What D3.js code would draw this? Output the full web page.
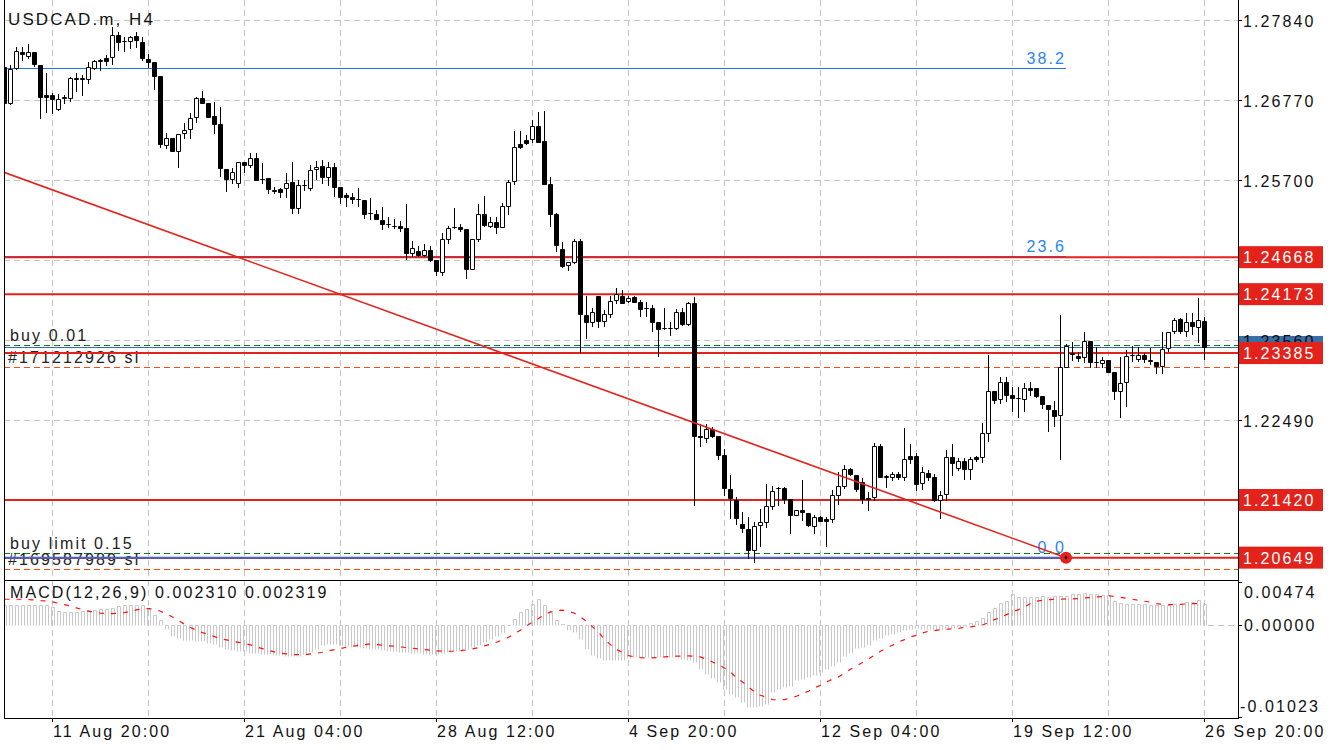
<!DOCTYPE html>
<html lang="en">
<head>
<meta charset="utf-8">
<script src="https://cdn.jsdelivr.net/npm/d3@7"></script>
<style>
    body { margin: 0; background: #ffffff; }
    svg { display: block; font-family: "Liberation Sans", Arial, sans-serif; }
    .t16 { font-size: 16px; letter-spacing: 2.1px; }
</style>
</head>
<body>
<script>
// ---- candles (H4, bar 0 .. bar 200) ----
const open = [
1.27211,1.26730,1.27198,1.27412,1.27359,1.27412,1.27238,1.26837,1.26837,1.26650,
1.26797,1.26797,1.27051,1.27051,1.27051,1.27198,1.27292,1.27332,1.27345,1.27639,
1.27560,1.27559,1.27626,1.27546,1.27319,1.27278,1.27091,1.26168,1.26262,1.26088,
1.26329,1.26382,1.26543,1.26797,1.26730,1.26556,1.26449,1.25847,1.25713,1.25660,
1.25941,1.25901,1.25994,1.25713,1.25727,1.25553,1.25580,1.25593,1.25673,1.25326,
1.25633,1.25593,1.25847,1.25887,1.25740,1.25874,1.25606,1.25499,1.25473,1.25446,
1.25433,1.25259,1.25245,1.25165,1.25112,1.25085,1.25085,1.25058,1.24724,1.24750,
1.24697,1.24764,1.24630,1.24470,1.24911,1.25071,1.25071,1.25045,1.24510,1.24911,
1.25245,1.25085,1.25138,1.25071,1.25352,1.25687,1.26182,1.26235,1.26248,1.26422,
1.26222,1.25647,1.25245,1.24777,1.24563,1.24603,1.24884,1.23894,1.23801,1.24149,
1.23814,1.23908,1.24095,1.24149,1.24082,1.24135,1.24068,1.23988,1.23988,1.23801,
1.23721,1.23714,1.23721,1.23935,1.23774,1.24055,1.22276,1.22249,1.22370,1.22276,
1.22022,1.21567,1.21420,1.21099,1.21032,1.20751,1.21086,1.21126,1.21340,1.21581,
1.21581,1.21433,1.21219,1.21286,1.21246,1.21072,1.21193,1.21166,1.21166,1.21487,
1.21607,1.21835,1.21754,1.21661,1.21447,1.21460,1.22142,1.21728,1.21728,1.21768,
1.21728,1.22009,1.22009,1.21647,1.21781,1.21728,1.21420,1.21500,1.21995,1.21848,
1.21942,1.21835,1.21995,1.21995,1.22316,1.22878,1.22771,1.22998,1.22824,1.22784,
1.22771,1.22918,1.22918,1.22811,1.22690,1.22624,1.22557,1.23199,1.23373,1.23346,
1.23333,1.23547,1.23266,1.23252,1.23293,1.23128,1.22878,1.22998,1.23359,1.23306,
1.23359,1.23279,1.23266,1.23212,1.23453,1.23681,1.23841,1.23681,1.23801,1.23734,
1.23814];
const high = [
1.27225,1.27238,1.27479,1.27479,1.27519,1.27412,1.27238,1.27131,1.26864,1.26850,
1.26837,1.27078,1.27131,1.27104,1.27278,1.27305,1.27319,1.27372,1.27746,1.27680,
1.27613,1.27626,1.27680,1.27613,1.27385,1.27278,1.27091,1.26329,1.26262,1.26315,
1.26462,1.26596,1.26810,1.26890,1.26730,1.26743,1.26676,1.25847,1.25861,1.25941,
1.25941,1.26061,1.26061,1.25927,1.25727,1.25606,1.25593,1.25794,1.25941,1.25700,
1.25700,1.25901,1.25954,1.25968,1.25941,1.25927,1.25606,1.25526,1.25526,1.25593,
1.25433,1.25460,1.25299,1.25339,1.25205,1.25178,1.25152,1.25379,1.24884,1.24817,
1.24844,1.24817,1.24630,1.24991,1.25085,1.25326,1.25112,1.25045,1.24911,1.25379,
1.25486,1.25205,1.25205,1.25392,1.25700,1.26355,1.26355,1.26302,1.26503,1.26610,
1.26623,1.25740,1.25259,1.24871,1.24603,1.24911,1.24911,1.24149,1.23988,1.24149,
1.23961,1.24149,1.24256,1.24229,1.24149,1.24149,1.24095,1.24068,1.24028,1.23801,
1.23988,1.23801,1.23975,1.23988,1.24068,1.24135,1.22437,1.22437,1.22397,1.22276,
1.22102,1.21754,1.21460,1.21260,1.21193,1.21126,1.21300,1.21634,1.21607,1.21594,
1.21594,1.21433,1.21286,1.21688,1.21246,1.21219,1.21206,1.21193,1.21554,1.21795,
1.21888,1.21848,1.21754,1.21714,1.21527,1.22182,1.22169,1.21754,1.21795,1.21795,
1.22383,1.22169,1.22049,1.21862,1.21821,1.21768,1.21541,1.22089,1.22169,1.21982,
1.21982,1.21995,1.22009,1.22450,1.23359,1.22878,1.23065,1.23065,1.22931,1.22931,
1.22985,1.22998,1.22918,1.22811,1.22690,1.22744,1.23894,1.23507,1.23534,1.23400,
1.23667,1.23547,1.23467,1.23333,1.23293,1.23128,1.23333,1.23427,1.23480,1.23467,
1.23386,1.23453,1.23266,1.23667,1.23667,1.23854,1.23854,1.23921,1.23921,1.24122,
1.23868];
const low = [
1.26717,1.26717,1.27185,1.27305,1.27332,1.27225,1.26529,1.26610,1.26596,1.26636,
1.26730,1.26757,1.26890,1.26837,1.26997,1.27190,1.27171,1.27238,1.27252,1.27439,
1.27425,1.27466,1.27479,1.27305,1.27211,1.26917,1.26141,1.26128,1.26088,1.25874,
1.26262,1.26262,1.26476,1.26730,1.26543,1.26329,1.25754,1.25553,1.25660,1.25606,
1.25807,1.25874,1.25700,1.25660,1.25526,1.25526,1.25473,1.25473,1.25259,1.25259,
1.25567,1.25567,1.25713,1.25660,1.25633,1.25486,1.25392,1.25352,1.25392,1.25352,
1.25192,1.25178,1.25178,1.25045,1.25071,1.25058,1.25018,1.24643,1.24684,1.24684,
1.24684,1.24617,1.24429,1.24429,1.24857,1.25058,1.25018,1.24389,1.24510,1.24884,
1.25085,1.25071,1.24991,1.25071,1.25245,1.25647,1.26128,1.26182,1.26209,1.26209,
1.25647,1.25085,1.24750,1.24536,1.24496,1.24590,1.23400,1.23587,1.23747,1.23734,
1.23747,1.23868,1.24055,1.24055,1.24068,1.24068,1.23881,1.23881,1.23680,1.23346,
1.23707,1.23627,1.23707,1.23761,1.23761,1.21353,1.22142,1.22196,1.22262,1.21968,
1.21487,1.21179,1.21099,1.20992,1.20644,1.20591,1.20805,1.21059,1.21300,1.21353,
1.21380,1.20979,1.21219,1.21153,1.21072,1.20979,1.21139,1.20805,1.21126,1.21367,
1.21581,1.21754,1.21541,1.21380,1.21286,1.21420,1.21728,1.21594,1.21688,1.21701,
1.21688,1.21915,1.21554,1.21567,1.21688,1.21406,1.21179,1.21420,1.21754,1.21821,
1.21701,1.21701,1.21942,1.21928,1.22209,1.22717,1.22717,1.22744,1.22610,1.22530,
1.22610,1.22824,1.22798,1.22651,1.22343,1.22410,1.21968,1.23199,1.23293,1.23279,
1.23266,1.23199,1.23199,1.23199,1.23128,1.22771,1.22530,1.22677,1.23279,1.23279,
1.23266,1.23239,1.23119,1.23119,1.23413,1.23654,1.23654,1.23614,1.23640,1.23534,
1.23306];
const close = [
1.26730,1.27185,1.27425,1.27385,1.27412,1.27252,1.26810,1.26810,1.26783,1.26783,
1.26810,1.27064,1.27064,1.27058,1.27211,1.27292,1.27299,1.27292,1.27639,1.27546,
1.27555,1.27613,1.27573,1.27332,1.27278,1.27091,1.26182,1.26262,1.26088,1.26315,
1.26369,1.26529,1.26797,1.26730,1.26543,1.26449,1.25861,1.25713,1.25807,1.25941,
1.25901,1.25994,1.25700,1.25707,1.25580,1.25560,1.25540,1.25660,1.25319,1.25633,
1.25627,1.25834,1.25874,1.25740,1.25874,1.25606,1.25473,1.25473,1.25446,1.25440,
1.25245,1.25252,1.25178,1.25112,1.25106,1.25080,1.25058,1.24724,1.24791,1.24697,
1.24764,1.24630,1.24483,1.24911,1.25058,1.25078,1.25045,1.24510,1.24911,1.25245,
1.25098,1.25138,1.25071,1.25352,1.25673,1.26141,1.26141,1.26195,1.26422,1.26209,
1.25647,1.25245,1.24831,1.24550,1.24603,1.24884,1.23908,1.23801,1.23935,1.23814,
1.23908,1.24082,1.24175,1.24055,1.24122,1.24068,1.23975,1.23982,1.23801,1.23707,
1.23714,1.23721,1.23935,1.23774,1.24055,1.22276,1.22262,1.22370,1.22276,1.22022,
1.21581,1.21447,1.21179,1.21046,1.20751,1.21072,1.21126,1.21340,1.21541,1.21587,
1.21433,1.21219,1.21286,1.21260,1.21086,1.21193,1.21139,1.21139,1.21487,1.21607,
1.21835,1.21768,1.21567,1.21433,1.21440,1.22142,1.21728,1.21735,1.21768,1.21728,
1.21968,1.21968,1.21634,1.21795,1.21728,1.21420,1.21487,1.21995,1.21915,1.21942,
1.21835,1.21968,1.21968,1.22316,1.22878,1.22758,1.22998,1.22824,1.22784,1.22778,
1.22918,1.22891,1.22811,1.22704,1.22637,1.22544,1.23199,1.23480,1.23380,1.23319,
1.23547,1.23266,1.23260,1.23293,1.23128,1.22878,1.22985,1.23346,1.23353,1.23359,
1.23306,1.23286,1.23212,1.23440,1.23667,1.23828,1.23681,1.23801,1.23747,1.23828,
1.23467];

// ---- MACD(12,26,9): histogram (main) and signal ----
const macdMain = [
0.00223,0.00223,0.00223,0.00223,0.00223,0.00223,0.00223,0.00223,0.00197,0.00152,
0.00141,0.00141,0.00141,0.00152,0.00160,0.00160,0.00171,0.00178,0.00186,0.00208,
0.00215,0.00215,0.00215,0.00215,0.00178,0.00104,0.00048,-0.00045,-0.00126,-0.00148,
-0.00167,-0.00174,-0.00182,-0.00186,-0.00200,-0.00215,-0.00249,-0.00275,-0.00286,-0.00289,
-0.00297,-0.00312,-0.00319,-0.00323,-0.00326,-0.00334,-0.00341,-0.00349,-0.00349,-0.00349,
-0.00326,-0.00304,-0.00275,-0.00230,-0.00211,-0.00219,-0.00230,-0.00237,-0.00249,-0.00249,
-0.00260,-0.00267,-0.00275,-0.00282,-0.00289,-0.00297,-0.00304,-0.00304,-0.00312,-0.00319,
-0.00323,-0.00326,-0.00326,-0.00312,-0.00304,-0.00297,-0.00289,-0.00275,-0.00249,-0.00230,
-0.00193,-0.00156,-0.00126,-0.00089,-0.00007,0.00067,0.00141,0.00178,0.00234,0.00282,
0.00223,0.00141,0.00048,0.00011,-0.00063,-0.00082,-0.00156,-0.00267,-0.00334,-0.00371,
-0.00390,-0.00397,-0.00397,-0.00390,-0.00371,-0.00364,-0.00360,-0.00360,-0.00360,-0.00360,
-0.00360,-0.00360,-0.00360,-0.00378,-0.00397,-0.00416,-0.00497,-0.00545,-0.00594,-0.00638,
-0.00712,-0.00768,-0.00805,-0.00861,-0.00916,-0.00916,-0.00905,-0.00879,-0.00749,-0.00712,
-0.00697,-0.00683,-0.00620,-0.00601,-0.00582,-0.00564,-0.00527,-0.00490,-0.00460,-0.00416,
-0.00349,-0.00312,-0.00260,-0.00249,-0.00230,-0.00174,-0.00148,-0.00119,-0.00100,-0.00082,
-0.00056,-0.00052,-0.00037,-0.00045,-0.00052,-0.00063,-0.00063,-0.00045,-0.00037,-0.00026,
-0.00015,0.00022,0.00037,0.00074,0.00141,0.00186,0.00245,0.00267,0.00345,0.00308,
0.00308,0.00308,0.00308,0.00319,0.00308,0.00319,0.00319,0.00319,0.00345,0.00345,
0.00356,0.00345,0.00345,0.00334,0.00334,0.00260,0.00245,0.00234,0.00234,0.00234,
0.00234,0.00223,0.00223,0.00215,0.00223,0.00234,0.00234,0.00252,0.00252,0.00271,
0.002310];
const macdSignal = [
0.00282,0.00282,0.00282,0.00282,0.00278,0.00275,0.00267,0.00263,0.00252,0.00237,
0.00223,0.00208,0.00186,0.00167,0.00148,0.00141,0.00126,0.00122,0.00122,0.00126,
0.00134,0.00148,0.00163,0.00174,0.00178,0.00171,0.00148,0.00119,0.00085,0.00045,
0.00004,-0.00033,-0.00063,-0.00089,-0.00111,-0.00134,-0.00156,-0.00171,-0.00186,-0.00197,
-0.00208,-0.00226,-0.00249,-0.00267,-0.00286,-0.00304,-0.00319,-0.00326,-0.00334,-0.00334,
-0.00338,-0.00326,-0.00319,-0.00308,-0.00293,-0.00278,-0.00267,-0.00252,-0.00241,-0.00230,
-0.00223,-0.00215,-0.00223,-0.00230,-0.00237,-0.00241,-0.00249,-0.00256,-0.00263,-0.00271,
-0.00278,-0.00286,-0.00293,-0.00297,-0.00297,-0.00297,-0.00289,-0.00282,-0.00271,-0.00256,
-0.00237,-0.00219,-0.00197,-0.00171,-0.00141,-0.00100,-0.00063,-0.00015,0.00030,0.00067,
0.00111,0.00141,0.00156,0.00160,0.00148,0.00126,0.00085,0.00037,-0.00026,-0.00082,
-0.00167,-0.00223,-0.00275,-0.00312,-0.00345,-0.00360,-0.00367,-0.00371,-0.00371,-0.00367,
-0.00360,-0.00356,-0.00352,-0.00349,-0.00349,-0.00352,-0.00360,-0.00386,-0.00416,-0.00445,
-0.00482,-0.00527,-0.00594,-0.00638,-0.00694,-0.00749,-0.00787,-0.00809,-0.00835,-0.00838,
-0.00835,-0.00816,-0.00798,-0.00768,-0.00742,-0.00705,-0.00675,-0.00638,-0.00608,-0.00582,
-0.00538,-0.00497,-0.00460,-0.00423,-0.00382,-0.00341,-0.00297,-0.00260,-0.00230,-0.00193,
-0.00167,-0.00137,-0.00119,-0.00093,-0.00074,-0.00067,-0.00056,-0.00052,-0.00048,-0.00041,
-0.00033,-0.00026,-0.00015,-0.00004,0.00022,0.00056,0.00078,0.00111,0.00141,0.00167,
0.00197,0.00234,0.00260,0.00271,0.00278,0.00282,0.00282,0.00286,0.00286,0.00289,
0.00297,0.00301,0.00308,0.00312,0.00319,0.00315,0.00304,0.00293,0.00282,0.00271,
0.00260,0.00249,0.00234,0.00226,0.00223,0.00223,0.00226,0.00230,0.00234,0.00234,
0.002319];

// ---- axis labels ----
const priceTicks = [1.27840, 1.26770, 1.25700, 1.24630, 1.23560, 1.22490, 1.21420];
const macdTicks = [0.00474, 0.00000, -0.01023];
const timeBars = [8, 40, 72, 104, 136, 168, 200];
const timeLabels = ["11 Aug 20:00", "21 Aug 04:00", "28 Aug 12:00", "4 Sep 20:00",
                    "12 Sep 04:00", "19 Sep 12:00", "26 Sep 20:00"];

// ---- objects on the chart ----
const levels = [1.24668, 1.24173, 1.23385, 1.21420, 1.20649];
const bidPrice = 1.23467;
const orders = [
    {text: "buy 0.01", price: 1.23493, kind: "open"},
    {text: "#171212926 sl", price: 1.23199, kind: "sl"},
    {text: "buy limit 0.15", price: 1.20711, kind: "open"},
    {text: "#169587989 sl", price: 1.20497, kind: "sl"}
];
const fibLevels = ["0.0", "23.6", "38.2"];
const fibPrices = [1.20649, 1.24680, 1.27194];
const fibEndBar = 177;
const trendBars = [0, 177];
const trendPrices = [1.25803, 1.20649];

const w = 1334, h = 750;
const red = "#e3231b", grid = "#c4c4c4", fibBlue = "#1f74e8";
const L = 4, R = 1238, mainTop = 0, sep = 580, bottom = 718;

const svg = d3.select("body").append("svg").attr("width", w).attr("height", h);

const x = d3.scaleLinear().domain([0, 200]).range([4, 1204]);
const y = d3.scaleLinear().domain([1.20350, 1.27840]).range([580, 20]);
const ym = d3.scaleLinear().domain([-0.01023, 0.00474]).range([716.5, 582]);
const sn = v => Math.round(v) + 0.5;

svg.append("clipPath").attr("id", "cMain").append("rect")
    .attr("x", L).attr("y", mainTop).attr("width", R - L).attr("height", sep - mainTop);
svg.append("clipPath").attr("id", "cMacd").append("rect")
    .attr("x", L).attr("y", sep).attr("width", R - L).attr("height", bottom - sep);
// only the part of the 1.23560 tick text above the level label is visible
svg.append("clipPath").attr("id", "cTick").append("rect")
    .attr("x", R).attr("y", 0).attr("width", 96).attr("height", y(levels[2]) - 11);

// grid
const gridBars = d3.range(8, 201, 16);
svg.append("g").selectAll("line").data(gridBars).join("line")
    .attr("x1", d => sn(x(d))).attr("x2", d => sn(x(d)))
    .attr("y1", 0).attr("y2", bottom)
    .attr("stroke", grid).attr("stroke-dasharray", "6,4");
svg.append("g").selectAll("line").data(priceTicks).join("line")
    .attr("x1", L).attr("x2", R)
    .attr("y1", d => sn(y(d))).attr("y2", d => sn(y(d)))
    .attr("stroke", grid).attr("stroke-dasharray", "6,4");

const main = svg.append("g").attr("clip-path", "url(#cMain)");

// order lines
main.selectAll("line.ord").data(orders).join("line").attr("class", "ord")
    .attr("x1", L).attr("x2", R)
    .attr("y1", d => sn(y(d.price))).attr("y2", d => sn(y(d.price)))
    .attr("stroke", d => d.kind == "sl" ? "#ff4a12" : "#0f7a1a")
    .attr("stroke-dasharray", "6,4");
main.selectAll("text.ord").data(orders).join("text").attr("class", "ord t16")
    .attr("x", d => d.kind == "sl" ? 8 : 10).attr("y", d => y(d.price) - 4)
    .attr("fill", "#222").text(d => d.text);

// bid line
main.append("line").attr("x1", L).attr("x2", R)
    .attr("y1", sn(y(bidPrice))).attr("y2", sn(y(bidPrice)))
    .attr("stroke", "#3b6ea5");

// fibo lines
main.selectAll("line.fib").data(fibPrices).join("line").attr("class", "fib")
    .attr("x1", L).attr("x2", x(fibEndBar))
    .attr("y1", d => sn(y(d))).attr("y2", d => sn(y(d)))
    .attr("stroke", fibBlue).attr("stroke-width", 1.2);

// horizontal red levels
main.selectAll("line.lvl").data(levels).join("line").attr("class", "lvl")
    .attr("x1", L).attr("x2", R)
    .attr("y1", d => y(d)).attr("y2", d => y(d))
    .attr("stroke", red).attr("stroke-width", 2);

// fibo 0 line stays on top of its level, left of the anchor
main.append("line").attr("x1", L).attr("x2", x(fibEndBar))
    .attr("y1", y(fibPrices[0])).attr("y2", y(fibPrices[0]))
    .attr("stroke", fibBlue).attr("stroke-width", 1.5);

main.selectAll("text.fib").data(fibLevels).join("text").attr("class", "fib t16")
    .attr("x", x(fibEndBar)).attr("y", (d, i) => y(fibPrices[i]) - 4.5)
    .attr("text-anchor", "end").attr("fill", "#2b84f4").text(d => d);

// candles
const bars = main.append("g").selectAll("g").data(d3.range(open.length)).join("g");
bars.append("line")
    .attr("x1", i => Math.round(x(i)) + 0.5).attr("x2", i => Math.round(x(i)) + 0.5)
    .attr("y1", i => Math.round(y(high[i]))).attr("y2", i => Math.round(y(low[i])) + 1)
    .attr("stroke", "#000");
bars.append("path")
    .attr("d", i => {
        const cx = Math.round(x(i));
        const t = sn(y(Math.max(open[i], close[i])));
        const b = sn(y(Math.min(open[i], close[i])));
        return `M${cx - 1.5},${t}H${cx + 2.5}V${b}H${cx - 1.5}Z`;
    })
    .attr("fill", i => close[i] >= open[i] ? "#fff" : "#000")
    .attr("stroke", "#000");

// trend line and its anchor dot
main.append("line")
    .attr("x1", x(trendBars[0])).attr("y1", y(trendPrices[0]))
    .attr("x2", x(trendBars[1])).attr("y2", y(trendPrices[1]))
    .attr("stroke", red).attr("stroke-width", 1.6);
main.append("circle").attr("cx", x(fibEndBar)).attr("cy", y(fibPrices[0]))
    .attr("r", 6).attr("fill", red);
main.append("circle").attr("cx", x(fibEndBar)).attr("cy", y(fibPrices[0]))
    .attr("r", 1.3).attr("fill", "#000");

// MACD pane
const mp = svg.append("g").attr("clip-path", "url(#cMacd)");
const z = sn(ym(0));
mp.append("g").selectAll("path").data(macdMain).join("path")
    .attr("d", (v, i) => {
        const cx = Math.round(x(i));
        const yv = sn(ym(v));
        const top = Math.min(yv, z), bot = Math.max(yv, z);
        return `M${cx - 0.5},${bot}V${top}H${cx + 2.5}V${bot}`;
    })
    .attr("fill", "none").attr("stroke", "#c8c8c8");
mp.append("line").attr("x1", x(200) + 4).attr("x2", R).attr("y1", z).attr("y2", z)
    .attr("stroke", grid).attr("stroke-dasharray", "6,4");
mp.append("path").datum(macdSignal)
    .attr("d", d3.line().x((d, i) => x(i) + 0.5).y(d => ym(d)))
    .attr("fill", "none").attr("stroke", "#ff1010").attr("stroke-width", 1.2)
    .attr("stroke-dasharray", "5,7");

// frames
const frame = svg.append("g").attr("stroke", "#000").attr("shape-rendering", "crispEdges");
frame.append("line").attr("x1", 4.5).attr("x2", 4.5).attr("y1", 0).attr("y2", bottom);
frame.append("line").attr("x1", R + 0.5).attr("x2", R + 0.5).attr("y1", 0).attr("y2", bottom + 1);
frame.append("line").attr("x1", L).attr("x2", R).attr("y1", sep + 0.5).attr("y2", sep + 0.5);
frame.append("line").attr("x1", L).attr("x2", R + 1).attr("y1", bottom + 0.5).attr("y2", bottom + 0.5);

// right price axis
frame.selectAll("line.pt").data(priceTicks).join("line").attr("class", "pt")
    .attr("x1", R).attr("x2", R + 4).attr("y1", d => sn(y(d))).attr("y2", d => sn(y(d)));
frame.selectAll("line.mt").data(macdTicks).join("line").attr("class", "mt")
    .attr("x1", R).attr("x2", R + 4).attr("y1", d => sn(ym(d))).attr("y2", d => sn(ym(d)));
frame.selectAll("line.tt").data(timeBars).join("line").attr("class", "tt")
    .attr("x1", d => sn(x(d))).attr("x2", d => sn(x(d))).attr("y1", bottom).attr("y2", bottom + 4);

// bid label (partly under the level labels)
svg.append("rect").attr("x", 1239).attr("y", y(bidPrice) - 11)
    .attr("width", 84).attr("height", 22).attr("fill", "#3b6ea5");

// tick texts; the ones fully covered by a level label are left out
const covered = d => levels.some(l => Math.abs(y(l) - y(d)) < 6);
const nearBid = d => Math.abs(y(bidPrice) - y(d)) < 11;
svg.append("g").selectAll("text").data(priceTicks.filter(d => !covered(d))).join("text")
    .attr("class", "t16")
    .attr("clip-path", d => nearBid(d) ? "url(#cTick)" : null)
    .attr("x", 1243).attr("y", d => y(d) + 6.5).attr("fill", "#111")
    .text(d => d.toFixed(5));

const lab = svg.append("g").selectAll("g").data(levels).join("g");
lab.append("rect").attr("x", 1239).attr("y", d => y(d) - 11)
    .attr("width", 84).attr("height", 22).attr("fill", red);
lab.append("text").attr("class", "t16").attr("x", 1243).attr("y", d => y(d) + 6)
    .attr("fill", "#fff").text(d => d.toFixed(5));

svg.append("g").selectAll("text").data(macdTicks).join("text").attr("class", "t16")
    .attr("x", d => d < 0 ? 1240 : 1244)
    .attr("y", (d, i) => i == 0 ? ym(d) + 16 : (i == 1 ? ym(d) + 6 : ym(d) - 4.5))
    .attr("fill", "#111").text(d => d.toFixed(5));

// time axis
svg.append("g").selectAll("text").data(timeBars).join("text").attr("class", "t16")
    .attr("x", d => x(d) + 1).attr("y", 737).attr("fill", "#111")
    .text((d, i) => timeLabels[i]);

// titles
svg.append("text").attr("class", "t16").attr("x", 8).attr("y", 25)
    .style("font-size", "17px").attr("fill", "#111").text("USDCAD.m, H4");
svg.append("text").attr("class", "t16").attr("x", 10).attr("y", 598)
    .attr("fill", "#111")
    .text("MACD(12,26,9) " + macdMain[macdMain.length - 1].toFixed(6) + " " + macdSignal[macdSignal.length - 1].toFixed(6));
</script>
</body>
</html>
